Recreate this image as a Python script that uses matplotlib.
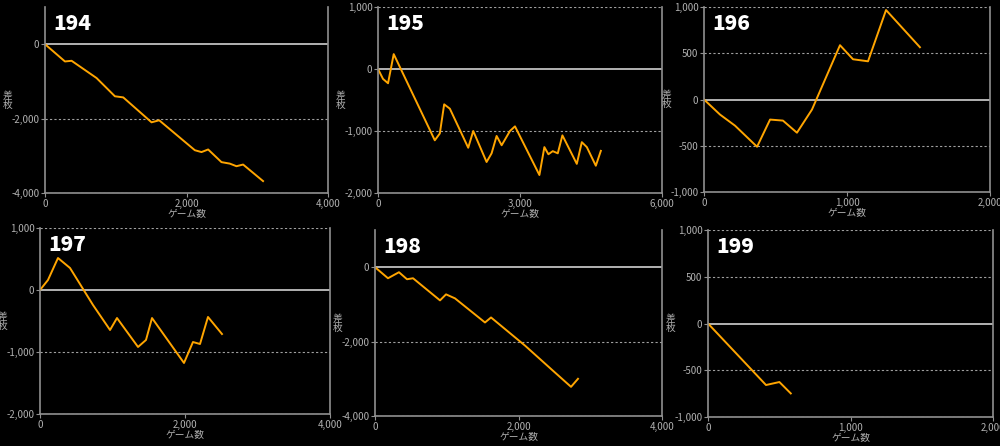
import numpy as np
import matplotlib.pyplot as plt

plt.rcParams['font.family'] = ['Noto Sans CJK JP', 'DejaVu Sans']

titles = ['194', '195', '196', '197', '198', '199']

x194 = [0, 282, 376, 729, 988, 1106, 1506, 1614, 2118, 2212, 2306, 2494, 2612, 2706, 2800, 3082]
y194 = [0, -464, -446, -910, -1400, -1430, -2100, -2045, -2850, -2900, -2830, -3170, -3210, -3280, -3235, -3680]

x195 = [0, 106, 212, 332, 1200, 1306, 1398, 1518, 1906, 2012, 2294, 2400, 2506, 2612, 2788, 2894,
        3410, 3515, 3600, 3692, 3798, 3896, 4200, 4306, 4412, 4602, 4708]
y195 = [0, -160, -230, 240, -1150, -1040, -570, -640, -1270, -1000, -1500, -1360, -1080, -1230, -1000, -925,
        -1710, -1260, -1375, -1325, -1360, -1070, -1530, -1180, -1260, -1560, -1320]

x196 = [0, 112, 217, 371, 462, 552, 650, 755, 951, 1042, 1147, 1273, 1510]
y196 = [0, -163, -283, -511, -217, -228, -359, -109, 587, 435, 413, 967, 565]

x197 = [0, 110, 248, 414, 731, 966, 1062, 1352, 1462, 1545, 1986, 2110, 2207, 2317, 2510]
y197 = [0, 161, 516, 355, -242, -645, -452, -919, -806, -452, -1177, -839, -871, -435, -710]

x198 = [0, 181, 334, 446, 530, 906, 990, 1115, 1533, 1617, 2091, 2481, 2732, 2829]
y198 = [0, -297, -135, -324, -297, -892, -730, -838, -1486, -1351, -2108, -2784, -3216, -3000]

x199 = [0, 407, 501, 581]
y199 = [0, -658, -626, -748]

xs = [x194, x195, x196, x197, x198, x199]
ys = [y194, y195, y196, y197, y198, y199]
xlims = [4000, 6000, 2000, 4000, 4000, 2000]
ylims = [(-4000, 1000), (-2000, 1000), (-1000, 1000), (-2000, 1000), (-4000, 1000), (-1000, 1000)]
ysteps = [2000, 1000, 500, 1000, 2000, 500]

# axes boxes in pixels: left, right, top, bottom
boxes = [(45, 328, 7, 193), (378, 662, 7, 193), (704, 990, 7, 192),
         (40, 330, 228, 414), (375, 662, 230, 416), (708, 993, 230, 417)]

W, H = 1000, 446
fig = plt.figure(figsize=(10, 4.46), dpi=100, facecolor='black')
grey = '#b0b0b0'

for i in range(6):
    l, r, t, b = boxes[i]
    ax = fig.add_axes([l / W, 1 - b / H, (r - l) / W, (b - t) / H])
    ax.set_facecolor('black')
    lo, hi = ylims[i]
    ax.set_xlim(0, xlims[i])
    ax.set_ylim(lo, hi)
    yt = np.arange(lo, hi + 1, ysteps[i])
    ax.set_yticks(yt)
    ax.set_xticks([0, xlims[i] / 2, xlims[i]])
    ax.set_yticklabels([f'{int(v):,}' for v in yt])
    ax.set_xticklabels([f'{int(v):,}' for v in [0, xlims[i] / 2, xlims[i]]])
    for v in yt:
        if v == 0:
            ax.axhline(0, color='#d0d0d0', lw=1.2)
        else:
            ax.axhline(v, color='#a0a0a0', lw=0.8, ls=(0, (2, 2)))
    ax.plot(xs[i], ys[i], color='#ffa500', lw=1.4)
    ax.spines['top'].set_visible(False)
    for s in ['left', 'right', 'bottom']:
        ax.spines[s].set_color('#909090')
        ax.spines[s].set_linewidth(1.2)
    ax.tick_params(colors='#909090', labelcolor=grey, labelsize=7, length=3, pad=1)
    ax.set_xlabel('ゲーム数', color=grey, fontsize=7, labelpad=0)
    ax.set_ylabel('差\n枚', color=grey, fontsize=7, rotation=0, va='center', labelpad=3,
                  linespacing=0.9)
    ax.text(0.03, 0.96, titles[i], transform=ax.transAxes, color='white',
            fontsize=15, fontweight='heavy', va='top', ha='left')

fig.savefig('out.png', facecolor='black')
